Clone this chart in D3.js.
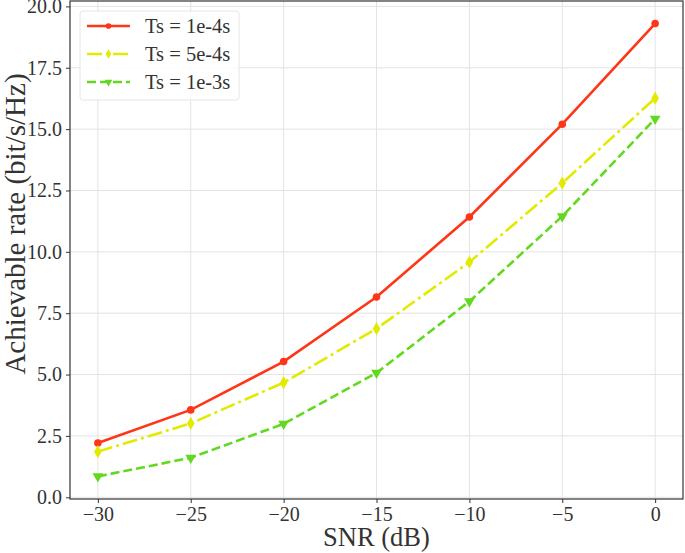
<!DOCTYPE html>
<html>
<head>
<meta charset="utf-8">
<script src="https://cdn.jsdelivr.net/npm/d3@7"></script>
<style>
  body { margin: 0; background: #fff; }
  svg text { font-family: "Liberation Serif", "Times New Roman", serif; fill: #333; }
</style>
</head>
<body>
<div id="myChart"></div>
<script>
let width = 685;
let height = 553;

// data
const snr = [-30, -25, -20, -15, -10, -5, 0];
const rate1e4 = [2.21, 3.56, 5.53, 8.16, 11.42, 15.2, 19.3];
const rate5e4 = [1.86, 3.01, 4.67, 6.87, 9.58, 12.8, 16.26];
const rate1e3 = [0.85, 1.61, 2.99, 5.07, 7.98, 11.45, 15.42];
const xTicks = [-30, -25, -20, -15, -10, -5, 0];
const yTicks = [0, 2.5, 5, 7.5, 10, 12.5, 15, 17.5, 20];

const series = [
  { name: "Ts = 1e-4s", values: rate1e4, color: "#ff3517", dash: null, marker: "circle" },
  { name: "Ts = 5e-4s", values: rate5e4, color: "#e2ea00", dash: "15,4,3,4", marker: "diamond" },
  { name: "Ts = 1e-3s", values: rate1e3, color: "#62d91f", dash: "9,4", marker: "triangle" }
];

let margin = { left: 70, right: 2, top: 1, bottom: 54 };

let svg = d3.select("#myChart").append("svg")
  .attr("width", width)
  .attr("height", height)

var x = d3.scaleLinear().domain([-31.5, 1.5]).range([margin.left, width - margin.right]);
var y = d3.scaleLinear().domain([-0.07, 20.22]).range([height - margin.bottom, margin.top]);

// grid
svg.append("g").selectAll("line").data(xTicks).enter().append("line")
  .attr("x1", d => x(d)).attr("x2", d => x(d))
  .attr("y1", y.range()[0]).attr("y2", y.range()[1])
  .attr("stroke", "#e3e3e3").attr("stroke-width", 1);
svg.append("g").selectAll("line").data(yTicks).enter().append("line")
  .attr("y1", d => y(d)).attr("y2", d => y(d))
  .attr("x1", x.range()[0]).attr("x2", x.range()[1])
  .attr("stroke", "#e3e3e3").attr("stroke-width", 1);

// axes
let fmtX = d => d < 0 ? "\u2212" + Math.abs(d) : d;
let xAxis = svg.append("g")
  .attr("transform", "translate(0," + y.range()[0] + ")")
  .call(d3.axisBottom(x).tickValues(xTicks).tickFormat(fmtX).tickSize(4).tickPadding(4));
let yAxis = svg.append("g")
  .attr("transform", "translate(" + x.range()[0] + ",0)")
  .call(d3.axisLeft(y).tickValues(yTicks).tickFormat(d3.format(".1f")).tickSize(4).tickPadding(4));
[xAxis, yAxis].forEach(a => {
  a.select(".domain").remove();
  a.selectAll("line").attr("stroke", "#333");
  a.selectAll("text").style("font-size", "20px").attr("fill", "#333");
});

// frame
svg.append("rect")
  .attr("x", x.range()[0]).attr("y", y.range()[1])
  .attr("width", x.range()[1] - x.range()[0])
  .attr("height", y.range()[0] - y.range()[1])
  .attr("fill", "none").attr("stroke", "#333").attr("stroke-width", 1.2);

// lines
var line = d3.line().x((d, i) => x(snr[i])).y(d => y(d));
let symbolFor = { circle: d3.symbolCircle, diamond: d3.symbolDiamond, triangle: d3.symbolTriangle };

series.forEach(s => {
  svg.append("path")
    .attr("d", line(s.values))
    .attr("fill", "none")
    .attr("stroke", s.color)
    .attr("stroke-width", 2.6)
    .attr("stroke-dasharray", s.dash);
  svg.append("g").selectAll("path").data(s.values).enter().append("path")
    .attr("d", d3.symbol().type(symbolFor[s.marker]).size(s.marker == "circle" ? 45 : 50))
    .attr("transform", (d, i) => "translate(" + x(snr[i]) + "," + y(d) + ")" + (s.marker == "triangle" ? " rotate(180)" : ""))
    .attr("fill", s.color);
});

// legend
let lg = svg.append("g").attr("transform", "translate(80,11)");
lg.append("rect")
  .attr("width", 159).attr("height", 89).attr("rx", 3)
  .attr("fill", "#fff").attr("fill-opacity", 0.85)
  .attr("stroke", "#e6e6e6");
series.forEach((s, i) => {
  let cy = 15 + i * 28;
  lg.append("line")
    .attr("x1", 7).attr("x2", 50).attr("y1", cy).attr("y2", cy)
    .attr("stroke", s.color).attr("stroke-width", 2.6)
    .attr("stroke-dasharray", s.dash);
  lg.append("path")
    .attr("d", d3.symbol().type(symbolFor[s.marker]).size(25))
    .attr("transform", "translate(28.5," + cy + ")" + (s.marker == "triangle" ? " rotate(180)" : ""))
    .attr("fill", s.color);
  lg.append("text")
    .attr("x", 65).attr("y", cy + 7)
    .style("font-size", "20.5px")
    .text(s.name);
});

// axis labels
svg.append("text")
  .attr("x", (x.range()[0] + x.range()[1]) / 2).attr("y", 546)
  .attr("text-anchor", "middle")
  .style("font-size", "26.5px")
  .text("SNR (dB)");
svg.append("text")
  .attr("transform", "translate(25,224) rotate(-90)")
  .attr("text-anchor", "middle")
  .style("font-size", "29px")
  .text("Achievable rate (bit/s/Hz)");
</script>
</body>
</html>
